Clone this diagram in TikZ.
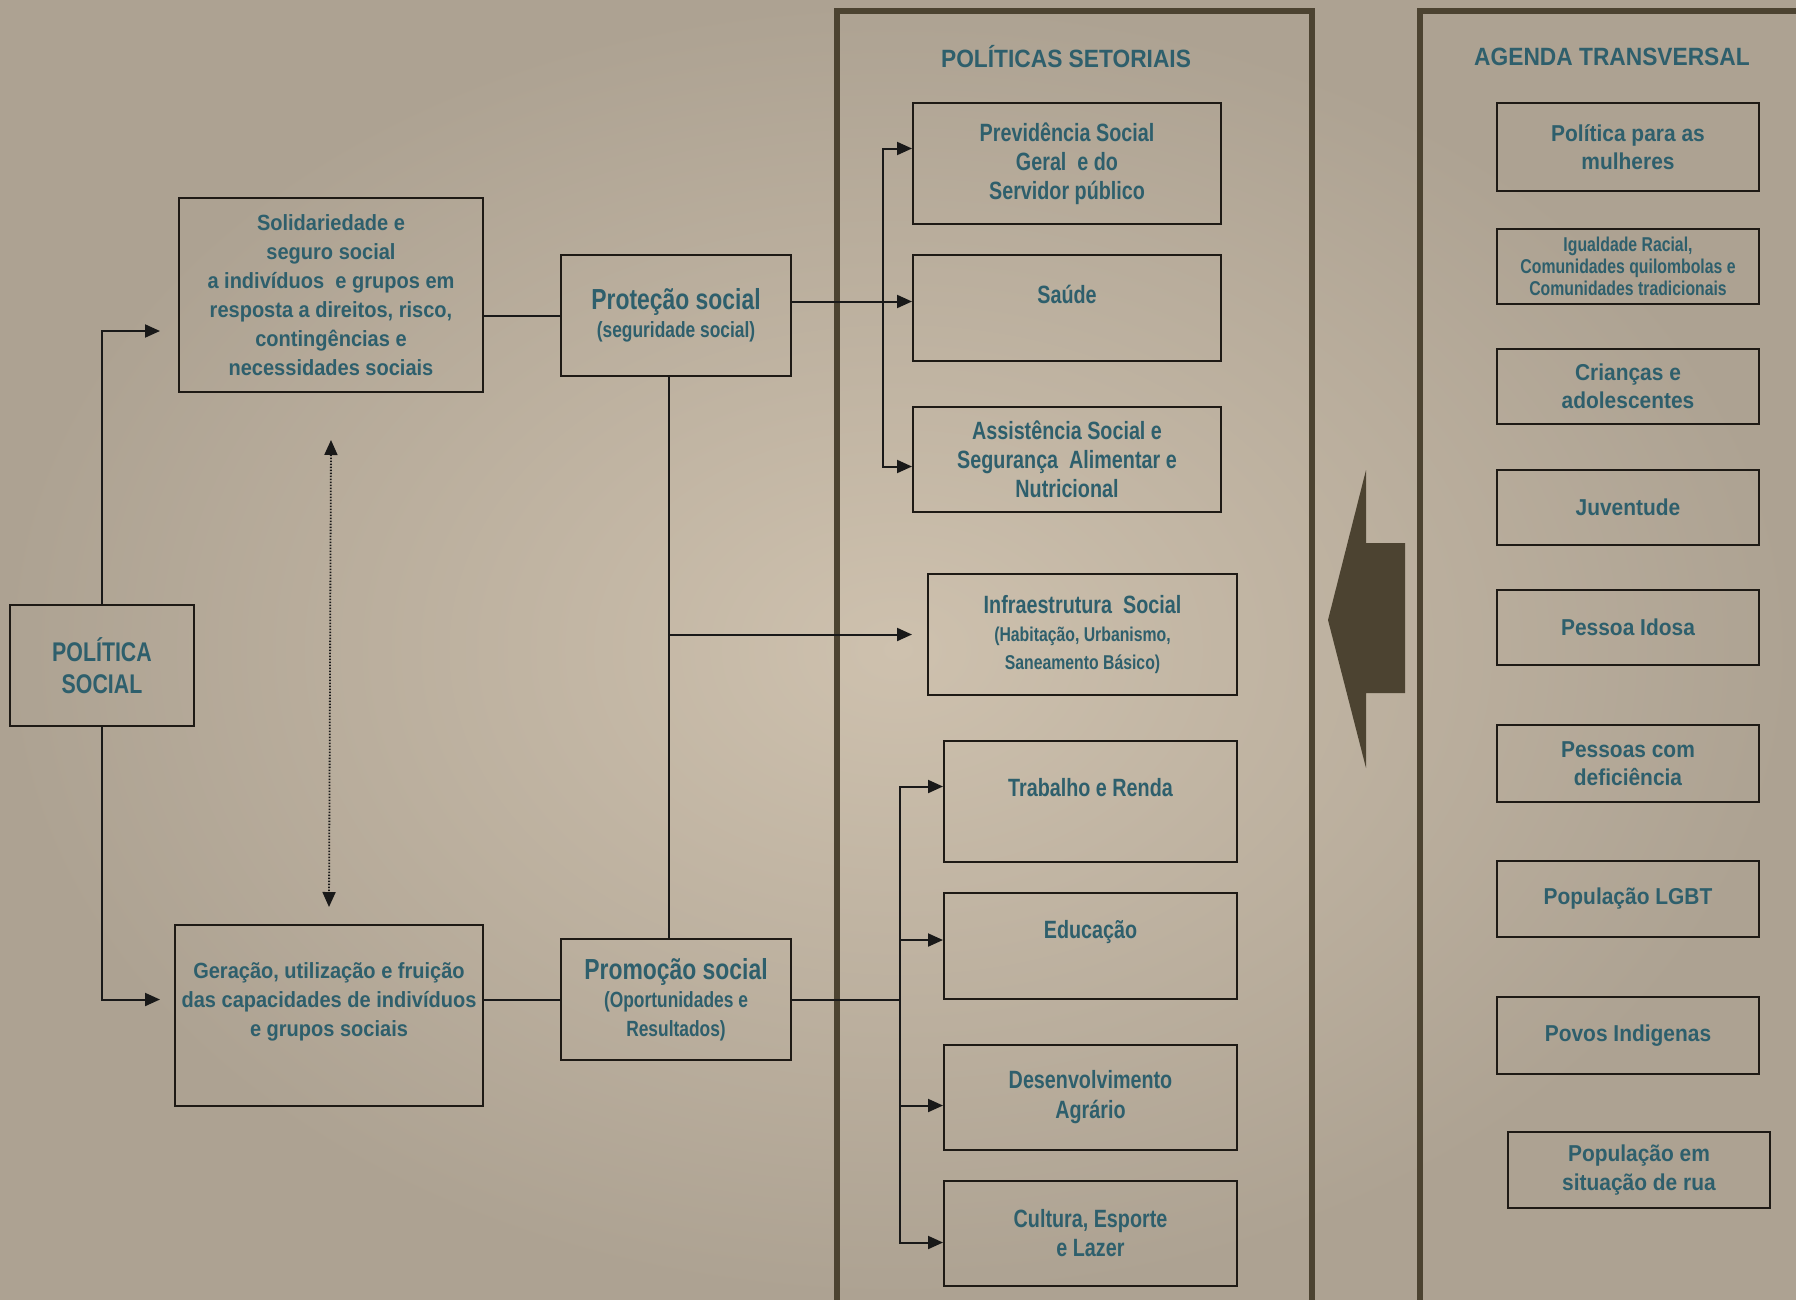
\documentclass[tikz,border=0pt]{standalone}
\usepackage{fontspec}
\newfontfamily\fnar[FakeStretch=0.79]{Liberation Sans Bold}
\newfontfamily\freg[FakeStretch=0.91]{Liberation Sans Bold}
\usetikzlibrary{arrows.meta,calc,positioning}
\definecolor{bgin}{HTML}{CEC1AE}
\definecolor{bgout}{HTML}{ADA292}
\definecolor{tealtxt}{HTML}{2E5F6C}
\definecolor{boxline}{HTML}{1E1A15}
\definecolor{panelcol}{HTML}{4C4331}
\tikzset{
  box/.style={draw=boxline, line width=2pt, inner sep=0pt, align=center, text=tealtxt},
  nar/.style 2 args={font=\fnar\fontsize{#1}{#2}\selectfont},
  reg/.style 2 args={font=\freg\fontsize{#1}{#2}\selectfont},
  conn/.style={draw=black!90, line width=2pt},
  arr/.style={conn, -{Triangle[length=15pt,width=13pt]}},
  dotarr/.style={draw=black!90, line width=1.8pt, dash pattern=on 1.5pt off 1.5pt,
    {Triangle[length=15pt,width=13pt]}-{Triangle[length=15pt,width=13pt]}},
  panel/.style={draw=panelcol, line width=6pt},
}
\newcommand\smalltxt[2]{{\fontsize{#1}{#1}\selectfont #2}}
\begin{document}
\begin{tikzpicture}[x=1pt,y=-1pt]
\useasboundingbox (0,0) rectangle (1796,1299);
\shade[inner color=bgin, outer color=bgout] (0,0) rectangle (1796,1299);

% panels
\draw[panel] (837,11) rectangle (1312,1310);
\draw[panel] (1420,11) rectangle (1815,1310);
\node[reg={25}{29}, text=tealtxt] (titset) at (1066,57) {POLÍTICAS SETORIAIS};
\node[reg={25}{29}, text=tealtxt] (titagd) at (1612,57) {AGENDA TRANSVERSAL};

% left side
\node[box, nar={27}{32}, minimum width=184, minimum height=121] (pol) at (102,665.5) {POLÍTICA\\SOCIAL};
\node[box, reg={22}{29}, minimum width=304, minimum height=194] (sol) at (331,295)
  {Solidariedade e\\ seguro social\\ a indivíduos \ e grupos em\\ resposta a direitos, risco,\\ contingências e\\ necessidades sociais};
\node[box, minimum width=308, minimum height=181,
  label={[reg={22}{29}, text=tealtxt, align=center, yshift=14pt]center:Geração, utilização e fruição\\das capacidades de indivíduos\\e grupos sociais}] (ger) at (329,1015.5) {};
\node[box, nar={29}{29}, minimum width=230, minimum height=121] (prot) at (676,315.5)
  {Proteção social\\[-1pt] \smalltxt{22}{(seguridade social)}};
\node[box, nar={29}{29}, minimum width=230, minimum height=121] (prom) at (676,999.5)
  {Promoção social\\[-1pt] \smalltxt{22}{(Oportunidades e}\\[0pt] \smalltxt{22}{Resultados)}};

% politicas setoriais
\node[box, nar={25}{29}, minimum width=308, minimum height=121] (prev) at (1067,163.5)
  {Previdência Social\\Geral \ e do\\Servidor público};
\node[box, minimum width=308, minimum height=106,
  label={[nar={25}{29}, text=tealtxt, yshift=14pt]center:Saúde}] (saude) at (1067,308) {};
\node[box, nar={25}{29}, minimum width=308, minimum height=105] (assist) at (1067,459.5)
  {Assistência Social e\\Segurança \ Alimentar e\\Nutricional};
\node[box, nar={25}{28}, minimum width=309, minimum height=121] (infra) at (1082.5,634.5)
  {Infraestrutura \ Social\\[0pt] \smalltxt{20}{(Habitação, Urbanismo,}\\[0pt] \smalltxt{20}{Saneamento Básico)}};
\node[box, minimum width=293, minimum height=121,
  label={[nar={25}{29}, text=tealtxt, yshift=14pt]center:Trabalho e Renda}] (trab) at (1090.5,801.5) {};
\node[box, minimum width=293, minimum height=106,
  label={[nar={25}{29}, text=tealtxt, yshift=14pt]center:Educação}] (edu) at (1090.5,946) {};
\node[box, nar={25}{30}, minimum width=293, minimum height=105] (desenv) at (1090.5,1097.5)
  {Desenvolvimento\\Agrário};
\node[box, nar={25}{29}, minimum width=293, minimum height=105] (cult) at (1090.5,1233.5)
  {Cultura, Esporte\\e Lazer};

% agenda transversal
\foreach \x/\y/\h/\n/\t in {1628/147/88/mulh/{Política para as\\mulheres},
    1628/386.5/75/crian/{Crianças e\\adolescentes},
    1628/507.5/75/juv/{Juventude},
    1628/627.5/75/idosa/{Pessoa Idosa},
    1628/763.5/77/defic/{Pessoas com\\deficiência},
    1628/899/76/lgbt/{População LGBT},
    1628/1035.5/77/povos/{Povos Indigenas},
    1639/1170/76/rua/{População em\\situação de rua}}
  \node[box, reg={23}{28.5}, minimum width=262, minimum height=\h] (\n) at (\x,\y) {\t};
\node[box, nar={20}{22}, minimum width=262, minimum height=75] (igual) at (1628,266.5)
  {Igualdade Racial,\\Comunidades quilombolas e\\Comunidades tradicionais};

% big arrow
\fill[panelcol] (1328,620) -- (1366,470) -- (1366,543) -- (1405,543)
  -- (1405,693) -- (1366,693) -- (1366,768) -- cycle;

% connectors
\draw[arr] (pol.north) |- ([xshift=-18pt,yshift=-36pt]sol.west);
\draw[arr] (pol.south) |- ([xshift=-14pt,yshift=16pt]ger.west);
\draw[dotarr] ([yshift=-47pt]sol.south) -- ([yshift=17pt]ger.north);
\draw[conn] (prot.west) -- (prot.west -| sol.east);
\draw[conn] (prom.west) -- (prom.west -| ger.east);
\draw[conn] ([xshift=-7pt]prot.south) -- ([xshift=-7pt]prom.north);
\draw[arr] ([xshift=-7pt]prot.south |- infra.west) -- ([xshift=-15pt]infra.west);

\coordinate (bp) at (883,301);
\draw[arr] ([yshift=14pt]prot.east) -- ([yshift=14pt]prot.east -| saude.west);
\draw[arr] (bp) |- ([yshift=15pt]prev.west);
\draw[arr] (bp) |- ([yshift=-7pt]assist.west);

\coordinate (bq) at (900,999.5);
\draw[conn] (prom.east) -- (bq);
\draw[arr] (bq) |- ([yshift=15pt]trab.west);
\draw[arr] (bq) |- ([yshift=6pt]edu.west);
\draw[arr] (bq) |- ([yshift=-8pt]desenv.west);
\draw[arr] (bq) |- ([yshift=-9pt]cult.west);
\end{tikzpicture}
\end{document}
